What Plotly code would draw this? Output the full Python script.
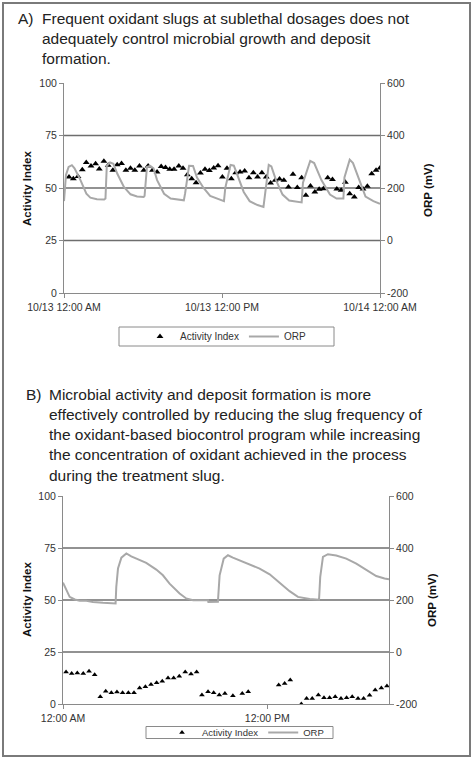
import pandas as pd
import plotly.graph_objects as go

# ---- data ----
# panel A: activity index, hours after 10/13 12:00 AM
a_act_hours = [0.38, 0.71, 1.06, 1.39, 1.69, 2.05, 2.4, 2.68, 3.03, 3.36, 3.71, 4.04, 4.37, 4.7,
               5.05, 5.38, 5.73, 6.06, 6.39, 6.72, 7.07, 7.38, 7.71, 8.03, 8.36, 8.72, 9.04, 9.37,
               9.7, 10.03, 10.36, 10.71, 11.04, 11.37, 11.7, 12.03, 12.38, 12.71, 13.04, 13.37,
               13.72, 14.05, 14.38, 14.7, 15.03, 15.36, 15.69, 16.04, 16.37, 16.7, 17.05, 17.39,
               17.72, 18.05, 18.37, 18.72, 19.05, 19.38, 19.7, 20.03, 20.39, 20.72, 21.05, 21.37,
               21.7, 22.05, 22.38, 22.71, 23.04, 23.37, 23.7, 24.0]
a_activity = [55.2, 54.4, 55.5, 58.7, 62.1, 60.5, 61.6, 59.0, 62.7, 60.8, 58.4, 61.1, 61.7, 58.4,
              59.4, 58.4, 60.5, 58.4, 60.5, 58.4, 57.6, 60.2, 59.8, 58.9, 58.9, 60.5, 59.4, 56.3,
              54.4, 52.5, 57.1, 58.9, 58.3, 59.5, 60.6, 55.2, 59.4, 54.4, 57.3, 57.6,
              58.1, 54.9, 57.3, 55.2, 57.3, 55.2, 52.4, 53.7, 54.3, 53.7, 50.5, 56.5,
              50.2, 54.9, 46.5, 51.0, 48.1, 49.4, 49.7, 54.9, 54.0, 49.5, 48.9, 52.7,
              47.3, 45.7, 50.2, 49.5, 50.8, 56.8, 58.4, 59.5]

# panel A: ORP (mV)
a_orp_hours = [0.0, 0.15, 0.35, 0.6, 0.8, 1.25, 1.7, 2.0, 2.5, 3.05, 3.15, 3.25, 3.5, 3.75, 4.05,
               4.55, 5.05, 5.55, 6.05, 6.12, 6.3, 6.55, 6.8, 7.07, 7.6, 8.1, 9.1, 9.2, 9.5, 9.8,
               10.1, 10.6, 11.1, 11.8, 12.15, 12.25, 12.65, 12.9, 13.15, 13.65, 14.1, 14.7, 15.15,
               15.28, 15.55, 15.75, 16.1, 16.6, 17.1, 18.05, 18.15, 18.7, 19.0, 19.55, 20.2, 20.7,
               21.22, 21.3, 21.7, 21.95, 22.5, 22.9, 23.5, 24.0]
a_orp = [150, 250, 280, 287, 275, 230, 178, 163, 157, 156, 160, 285, 297, 292, 254,
         204, 176, 168, 166, 170, 280, 284, 275, 230, 178, 160, 153, 180, 285, 284,
         240, 200, 170, 155, 150, 200, 288, 285, 250, 185, 150, 135, 128,
         180, 288, 282, 230, 175, 152, 145, 220, 303, 295, 230, 175, 160,
         160, 240, 308, 295, 220, 167, 150, 140]

# panel B: activity index, hours after 12:00 AM
b_act_hours = [0.18, 0.51, 0.84, 1.19, 1.53, 1.86, 2.19, 2.51, 2.84, 3.17, 3.5, 3.84, 4.17, 4.5,
               4.84, 5.17, 5.5, 5.83, 6.17, 6.5, 6.83, 7.18, 7.52, 7.85, 8.16, 8.52, 8.85, 9.18,
               9.51, 9.98, 10.53, 10.88, 12.67, 13.02, 13.35, 14.0, 14.31, 14.64, 15.0, 15.33,
               15.66, 15.99, 16.33, 16.66, 16.99, 17.33, 17.66, 18.01, 18.34, 18.7, 19.03]
b_activity = [15.4, 14.7, 14.9, 14.7, 15.7, 14.1, 3.5, 6.1, 5.4, 5.8, 5.4, 5.4, 5.4, 7.7,
              8.3, 9.4, 10.2, 10.9, 12.5, 12.5, 13.4, 15.4, 14.4, 15.4, 4.3, 5.9, 5.4, 4.3,
              5.1, 4.0, 5.1, 5.9, 9.1, 9.8, 11.5, 0.0, 2.7, 2.7, 4.3, 3.0,
              3.0, 3.5, 2.7, 3.0, 3.5, 2.7, 2.7, 4.2, 6.7, 7.7, 8.6]

# panel B: ORP (mV)
b_orp_hours = [0.0, 0.2, 0.39, 0.69, 0.98, 1.37, 1.76, 2.35, 3.09, 3.13, 3.23, 3.43, 3.72, 4.01,
               4.31, 4.89, 5.48, 5.87, 6.26, 6.85, 7.24, 7.64, 8.52, 8.54, 9.1, 9.2, 9.44, 9.69,
               9.98, 10.77, 11.55, 12.14, 12.73, 13.31, 13.8, 14.49, 15.04, 15.11, 15.27, 15.56,
               16.05, 16.64, 17.23, 17.82, 18.4, 18.89, 19.15]
b_orp = [267, 238, 212, 202, 197, 197, 192, 189, 187, 250, 321, 363, 379, 368,
         359, 343, 317, 295, 263, 225, 206, 199, 199, 192, 193, 295, 359, 372,
         363, 343, 321, 299, 266, 234, 212, 204, 201, 289, 366, 376,
         371, 359, 340, 317, 292, 283, 280]

# axis ticks
activity_ticks = [0, 25, 50, 75, 100]
orp_ticks = [-200, 0, 200, 400, 600]
orp_tick_labels = ["-200", "0", "200", "400", "600"]

title_a = ("Frequent oxidant slugs at sublethal dosages does not<br>"
           "adequately control microbial growth and deposit<br>formation.")
title_b = ("Microbial activity and deposit formation is more<br>"
           "effectively controlled by reducing the slug frequency of<br>"
           "the oxidant-based biocontrol program while increasing<br>"
           "the concentration of oxidant achieved in the process<br>"
           "during the treatment slug.")

W, H = 474, 759
FONT = "Arial, 'Liberation Sans', sans-serif"
ORP_COLOR = "#a8a8a8"
GRID_COLOR = "#6e6e6e"
FRAME_COLOR = "#8a8a8a"


def to_time(base, hours):
    return pd.Timestamp(base) + pd.to_timedelta(hours, unit="h")


def px(x):
    return x / W


def py(y):
    return 1 - y / H


fig = go.Figure()

# panel A
fig.add_trace(go.Scatter(x=to_time("2009-10-13", a_act_hours), y=a_activity, mode="markers",
                         name="Activity Index", xaxis="x", yaxis="y", legend="legend",
                         marker=dict(symbol="triangle-up", size=6, color="black")))
fig.add_trace(go.Scatter(x=to_time("2009-10-13", a_orp_hours), y=a_orp, mode="lines",
                         name="ORP", xaxis="x", yaxis="y2", legend="legend",
                         line=dict(color=ORP_COLOR, width=2)))
# panel B
fig.add_trace(go.Scatter(x=to_time("2009-10-13", b_act_hours), y=b_activity, mode="markers",
                         name="Activity Index", xaxis="x2", yaxis="y3", legend="legend2",
                         marker=dict(symbol="triangle-up", size=5, color="black")))
fig.add_trace(go.Scatter(x=to_time("2009-10-13", b_orp_hours), y=b_orp, mode="lines",
                         name="ORP", xaxis="x2", yaxis="y4", legend="legend2",
                         line=dict(color=ORP_COLOR, width=2)))

tick_font = dict(family=FONT, size=10.5, color="#333")
common_y = dict(showgrid=False, zeroline=False, showline=True, linecolor=FRAME_COLOR, linewidth=1,
                ticks="outside", ticklen=4, tickcolor=FRAME_COLOR, tickfont=tick_font,
                automargin=False)
common_x = dict(type="date", showgrid=False, zeroline=False, showline=True, linecolor=FRAME_COLOR,
                ticks="outside", ticklen=4, tickcolor=FRAME_COLOR, tickfont=tick_font,
                dtick=12 * 3600 * 1000, automargin=False)

legend_style = dict(orientation="h", xanchor="left", yanchor="middle",
                    borderwidth=0, bgcolor="rgba(0,0,0,0)", itemwidth=30,
                    xref="paper", yref="paper")

fig.update_layout(
    width=W, height=H,
    template="none",
    margin=dict(l=0, r=0, t=0, b=0, pad=0, autoexpand=False),
    paper_bgcolor="white", plot_bgcolor="white",
    font=dict(family=FONT, color="#222"),
    xaxis=dict(common_x, domain=[px(64), px(380)], anchor="y",
               range=[to_time("2009-10-13", 0), to_time("2009-10-13", 24)],
               tick0=to_time("2009-10-13", 0), tickformat="%m/%d %I:%M %p"),
    yaxis=dict(common_y, domain=[py(293), py(83)], anchor="x", range=[0, 100],
               tickvals=activity_ticks),
    yaxis2=dict(common_y, overlaying="y", side="right", anchor="x", range=[-200, 600],
                tickvals=orp_ticks, ticktext=orp_tick_labels),
    xaxis2=dict(common_x, domain=[px(63), px(389)], anchor="y3",
                range=[to_time("2009-10-13", 0), to_time("2009-10-13", 19.15)],
                tick0=to_time("2009-10-13", 0), tickformat="%I:%M %p"),
    yaxis3=dict(common_y, domain=[py(704), py(496)], anchor="x2", range=[0, 100],
                tickvals=activity_ticks),
    yaxis4=dict(common_y, overlaying="y3", side="right", anchor="x2", range=[-200, 600],
                tickvals=orp_ticks, ticktext=orp_tick_labels),
    legend=dict(legend_style, x=px(140), y=py(336.5),
                font=dict(family=FONT, size=10, color="#333")),
    legend2=dict(legend_style, x=px(162), y=py(732.5),
                 font=dict(family=FONT, size=9.5, color="#333")),
)

# horizontal grid lines at 25/50/75
for yref, xref in (("y", "x domain"), ("y3", "x2 domain")):
    for v in activity_ticks[1:-1]:
        fig.add_shape(type="line", xref=xref, yref=yref, x0=0, x1=1, y0=v, y1=v,
                      line=dict(color=GRID_COLOR, width=1.3), layer="below")

# legend boxes
fig.add_shape(type="rect", xref="paper", yref="paper", x0=px(119), x1=px(334),
              y0=py(346), y1=py(327), line=dict(color=FRAME_COLOR, width=1))
fig.add_shape(type="rect", xref="paper", yref="paper", x0=px(146), x1=px(333),
              y0=py(738.5), y1=py(726.5), line=dict(color=FRAME_COLOR, width=1))

# outer frame
fig.add_shape(type="rect", xref="paper", yref="paper", x0=px(3), x1=px(470), y0=py(756), y1=py(3),
              line=dict(color="#7a7a7a", width=2))

title_font = dict(family=FONT, size=15.5, color="#222")
fig.add_annotation(text="A)", x=px(16), y=py(8), xref="paper", yref="paper", xanchor="left",
                   yanchor="top", showarrow=False, font=title_font)
fig.add_annotation(text=title_a, x=px(40), y=py(8), xref="paper", yref="paper", xanchor="left",
                   yanchor="top", align="left", showarrow=False, font=title_font)
fig.add_annotation(text="B)", x=px(24), y=py(384), xref="paper", yref="paper", xanchor="left",
                   yanchor="top", showarrow=False, font=title_font)
fig.add_annotation(text=title_b, x=px(47), y=py(384), xref="paper", yref="paper", xanchor="left",
                   yanchor="top", align="left", showarrow=False, font=title_font)

axis_title_font = dict(family=FONT, size=11.5, color="#111")
for x, y, t in ((27, 189, "<b>Activity Index</b>"), (428, 190, "<b>ORP (mV)</b>"),
                (27, 600, "<b>Activity Index</b>"), (432, 600, "<b>ORP (mV)</b>")):
    fig.add_annotation(text=t, x=px(x), y=py(y), xref="paper", yref="paper", textangle=-90,
                       xanchor="center", yanchor="middle", showarrow=False, font=axis_title_font)

# drop the default 8px body margin so the figure sits at the page origin
fig.write_html("out.html", config={"displayModeBar": False},
               post_script="document.body.style.margin='0';")
